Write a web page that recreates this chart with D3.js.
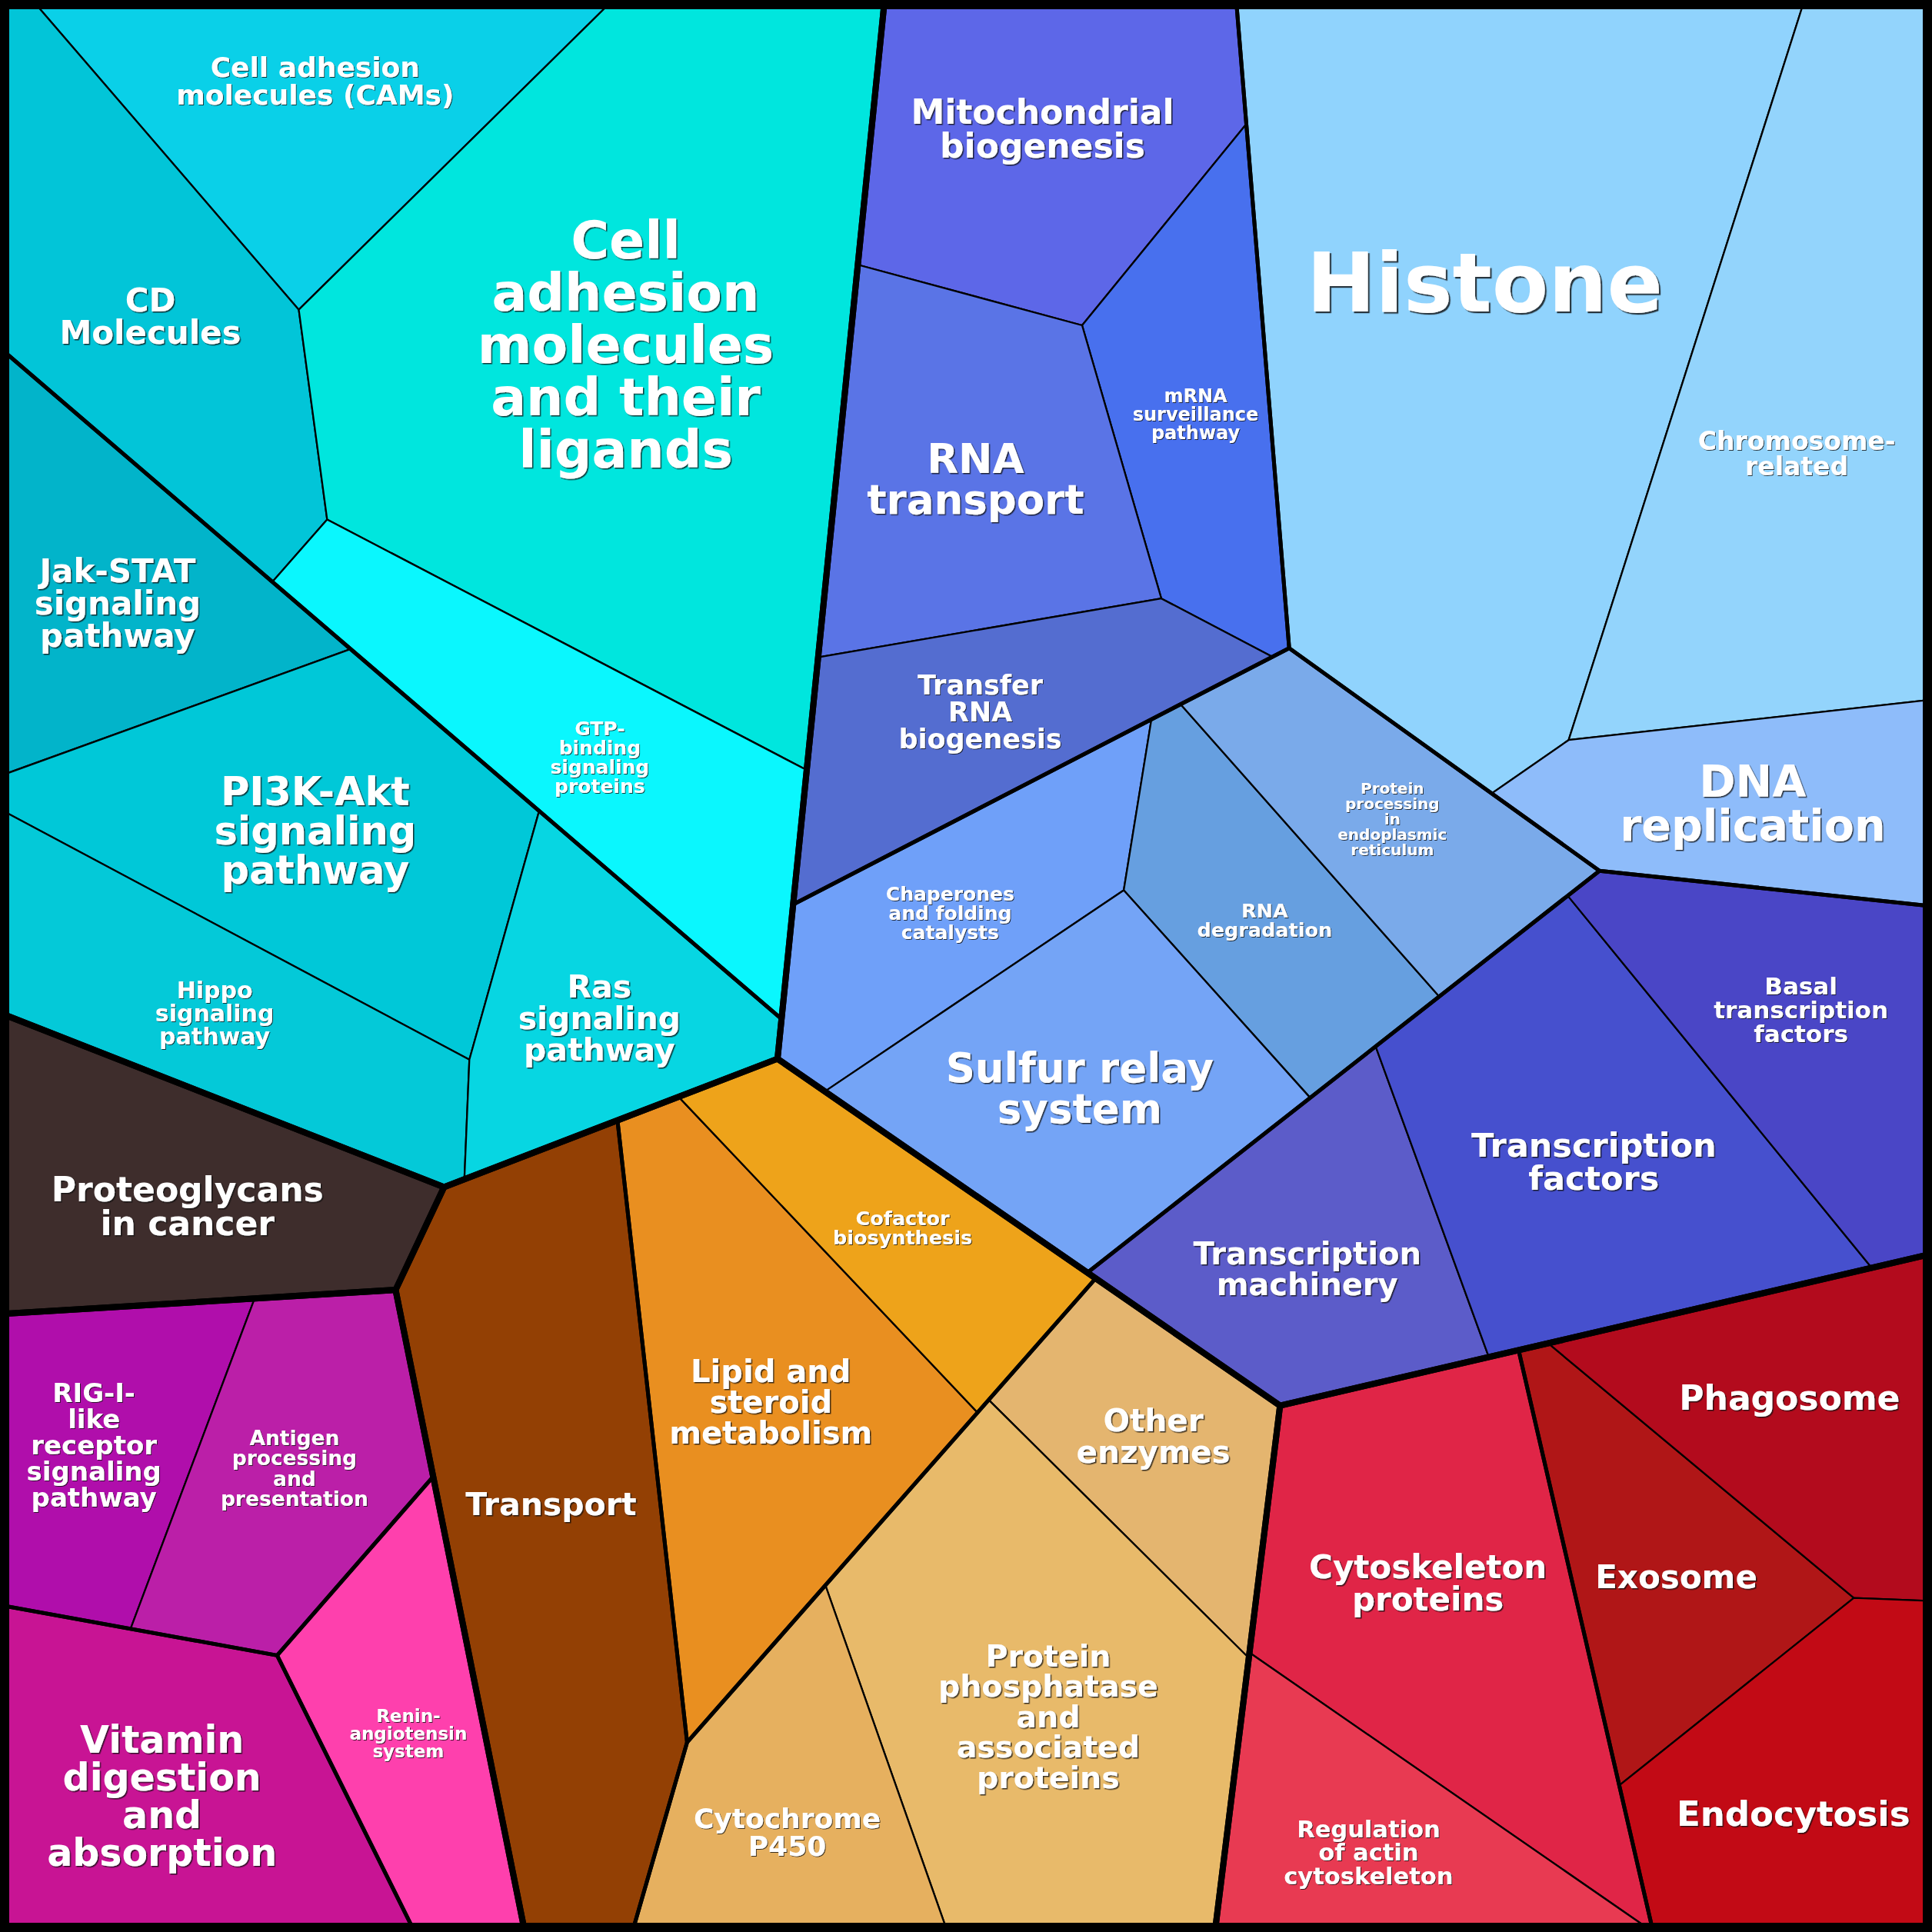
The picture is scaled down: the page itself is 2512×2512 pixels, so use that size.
<!DOCTYPE html>
<html>
<head>
<meta charset="utf-8">
<script src="https://cdn.jsdelivr.net/npm/d3@7"></script>
<style>
  body { margin: 0; background: #fff; }
</style>
</head>
<body>
<div id="chart"></div>
<script>
// Size of the picture
let width = 2512;
let height = 2512;

// Top level categories (not labelled in the picture)
const topNames = ["Environmental Information Processing", "Genetic Information Processing",
  "Cellular Processes", "Metabolism", "Human Diseases", "Organismal Systems"];

// Second level categories and the top category they belong to
const midNames = ["Signaling molecules and interaction", "Signal transduction",
  "Translation", "Chromosome", "Folding, sorting and degradation", "Transcription",
  "Cell motility", "Transport and catabolism", "Cancers",
  "Immune system", "Endocrine system", "Digestive system",
  "Transport", "Lipid and cofactor metabolism", "Enzyme families"];
const midParent = [0, 0, 1, 1, 1, 1, 2, 2, 4, 5, 5, 5, 3, 3, 3];

// Leaves: label (with its line breaks), second level category, value
const leafNames = [
  "Cell adhesion\nmolecules (CAMs)", "CD\nMolecules", "Cell\nadhesion\nmolecules\nand their\nligands", "GTP-\nbinding\nsignaling\nproteins",
  "Jak-STAT\nsignaling\npathway", "PI3K-Akt\nsignaling\npathway", "Hippo\nsignaling\npathway", "Ras\nsignaling\npathway",
  "Mitochondrial\nbiogenesis", "mRNA\nsurveillance\npathway", "RNA\ntransport", "Transfer\nRNA\nbiogenesis",
  "Histone", "Chromosome-\nrelated", "DNA\nreplication",
  "Chaperones\nand folding\ncatalysts", "RNA\ndegradation", "Protein\nprocessing\nin\nendoplasmic\nreticulum", "Sulfur relay\nsystem",
  "Transcription\nmachinery", "Transcription\nfactors", "Basal\ntranscription\nfactors",
  "Cytoskeleton\nproteins", "Regulation\nof actin\ncytoskeleton",
  "Exosome", "Phagosome", "Endocytosis",
  "Proteoglycans\nin cancer",
  "RIG-I-\nlike\nreceptor\nsignaling\npathway", "Antigen\nprocessing\nand\npresentation",
  "Renin-\nangiotensin\nsystem",
  "Vitamin\ndigestion\nand\nabsorption",
  "Transport",
  "Lipid and\nsteroid\nmetabolism", "Cofactor\nbiosynthesis",
  "Other\nenzymes", "Protein\nphosphatase\nand\nassociated\nproteins", "Cytochrome\nP450"
];
const leafParent = [0, 0, 0, 0, 1, 1, 1, 1, 2, 2, 2, 2, 3, 3, 3, 4, 4, 4, 4, 5, 5, 5,
  6, 6, 7, 7, 7, 8, 9, 9, 10, 11, 12, 13, 13, 14, 14, 14];
const leafValues = [24.1, 27.8, 81.0, 24.3, 20.1, 31.2, 21.3, 16.6,
  26.5, 17.1, 25.3, 18.6, 82.9, 46.7, 17.3,
  16.9, 15.4, 16.2, 24.9, 20.4, 33.0, 21.8,
  34.1, 16.4, 17.5, 20.4, 21.4, 23.2,
  16.1, 18.5, 15.8, 27.5, 42.0, 30.8, 14.9, 14.7, 40.4, 17.0];

// Voronoi generators (layout seed) for every level
const topSites = [[572, 728], [1818, 854], [2108, 2099], [1049, 1968], [236, 1585], [269, 2125]];
const midSites = [[719, 551], [300, 1039], [1334, 569], [2080, 508], [1628, 1138],
  [1967, 1570], [1849, 2180], [2290, 2078], [232, 1551], [273, 1941],
  [548, 2181], [198, 2355], [684, 1918], [1068, 1875], [1328, 2104]];
const leafSites = [[578, 138], [147, 509], [850, 414], [595, 902], [193, 756],
  [342, 1168], [286, 1273], [791, 1294], [1326, 261], [1576, 465],
  [1245, 561], [1314, 964], [1922, 430], [2286, 546], [2340, 1032],
  [1242, 1151], [1631, 1214], [1805, 1060], [1415, 1408], [1709, 1643],
  [2085, 1506], [2320, 1314], [1920, 2114], [1747, 2364], [2151, 2071],
  [2356, 1825], [2338, 2305], [232, 1551], [142, 1856], [371, 1942],
  [534, 2247], [220, 2330], [721, 1975], [976, 1805], [1183, 1609],
  [1566, 1941], [1312, 2197], [1011, 2303]];

// Fill colours of the leaves
const leafColors = ["#0ad0e8", "#02c5d8", "#00e6de", "#0af7fe", "#02b4ca", "#00c8d8", "#04c9d8", "#07d6e2",
  "#5d67e8", "#4870ee", "#5a74e6", "#546dd0", "#90d3fd", "#93d4fc", "#8ebcfa",
  "#6fa0f9", "#669fe0", "#7aaaea", "#74a4f6", "#5c5cc9", "#4650ce", "#4a46c6",
  "#e02547", "#e83a52", "#b01617", "#b30b1d", "#c20a15", "#3e2d2c",
  "#b00eab", "#bb1fa8", "#fe40ad", "#c81494",
  "#934004", "#e98f20", "#eea31a", "#e4b56f", "#e8ba6a", "#e6b05f"];

// Label font sizes (px)
const labelSizes = [36, 42, 68, 25, 42, 51, 30, 41, 44, 24, 53, 35, 107, 33, 57,
  25, 25.5, 20, 53, 40, 43, 31, 42, 30.5, 42, 44, 45, 44, 34, 26.5, 23, 49,
  41, 40, 25.5, 40.5, 39.5, 36];

// Keep the part of a convex polygon where ax*x + ay*y <= b
function clipHalf(poly, ax, ay, b){
    let out = [];
    for (let k = 0; k < poly.length; k++){
        let p = poly[k], q = poly[(k + 1) % poly.length];
        let dp = ax * p[0] + ay * p[1] - b;
        let dq = ax * q[0] + ay * q[1] - b;
        if (dp <= 0) out.push(p);
        if ((dp < 0 && dq > 0) || (dp > 0 && dq < 0)){
            let t = dp / (dp - dq);
            out.push([p[0] + t * (q[0] - p[0]), p[1] + t * (q[1] - p[1])]);
        }
    }
    return out;
}

// Bisector of the power diagram between site i and site j
function bisector(sites, w, i, j){
    let p = sites[i], q = sites[j];
    return {
        ax: 2 * (q[0] - p[0]),
        ay: 2 * (q[1] - p[1]),
        b: q[0] * q[0] + q[1] * q[1] - p[0] * p[0] - p[1] * p[1] - w[j] + w[i]
    };
}

function powerCells(parent, sites, w){
    return sites.map(function(p, i){
        let cell = parent;
        sites.forEach(function(q, j){
            if (i === j || cell.length < 3) return;
            let l = bisector(sites, w, i, j);
            cell = clipHalf(cell, l.ax, l.ay, l.b);
        });
        return cell;
    });
}

// Weighted Voronoi cells inside parent whose areas follow the values
function voronoiLevel(parent, sites, values){
    let n = sites.length;
    if (n === 1) return [parent];
    let total = d3.sum(values);
    let parentArea = Math.abs(d3.polygonArea(parent));
    let targets = values.map(function(v){ return v / total * parentArea; });
    let w = new Array(n).fill(0);
    let cells = powerCells(parent, sites, w);
    for (let it = 0; it < 2000; it++){
        let maxErr = 0;
        let dw = cells.map(function(cell, i){
            let area = cell.length > 2 ? Math.abs(d3.polygonArea(cell)) : 0;
            maxErr = Math.max(maxErr, Math.abs(targets[i] - area) / targets[i]);
            let deriv = 0;
            for (let j = 0; j < n; j++){
                if (j === i || cell.length < 3) continue;
                let l = bisector(sites, w, i, j);
                let norm = Math.hypot(l.ax, l.ay);
                for (let k = 0; k < cell.length; k++){
                    let a = cell[k], c = cell[(k + 1) % cell.length];
                    let da = (l.ax * a[0] + l.ay * a[1] - l.b) / norm;
                    let dc = (l.ax * c[0] + l.ay * c[1] - l.b) / norm;
                    if (Math.abs(da) < 1e-3 && Math.abs(dc) < 1e-3){
                        deriv += Math.hypot(c[0] - a[0], c[1] - a[1]) / norm;
                    }
                }
            }
            if (deriv === 0) return parentArea * 0.01;
            return 0.5 * (targets[i] - area) / deriv;
        });
        w = w.map(function(x, i){ return x + dw[i]; });
        cells = powerCells(parent, sites, w);
        if (maxErr < 1e-6) break;
    }
    return cells;
}

// Hierarchy: which leaves in each mid group, which mids in each top group
let leafIdx = d3.range(leafNames.length);
let midLeaves = midNames.map(function(d, m){ return leafIdx.filter(function(i){ return leafParent[i] === m; }); });
let topMids = topNames.map(function(d, t){ return d3.range(midNames.length).filter(function(m){ return midParent[m] === t; }); });
let midValues = midLeaves.map(function(ls){ return d3.sum(ls, function(i){ return leafValues[i]; }); });
let topValues = topMids.map(function(ms){ return d3.sum(ms, function(m){ return midValues[m]; }); });

let square = [[0, 0], [width, 0], [width, height], [0, height]];
let topCells = voronoiLevel(square, topSites, topValues);

let midCells = new Array(midNames.length);
let leafCells = new Array(leafNames.length);
topMids.forEach(function(mids, t){
    let cells = voronoiLevel(topCells[t],
        mids.map(function(m){ return midSites[m]; }),
        mids.map(function(m){ return midValues[m]; }));
    mids.forEach(function(m, k){
        midCells[m] = cells[k];
        let leaves = midLeaves[m];
        let lc = voronoiLevel(cells[k],
            leaves.map(function(i){ return leafSites[i]; }),
            leaves.map(function(i){ return leafValues[i]; }));
        leaves.forEach(function(i, k2){ leafCells[i] = lc[k2]; });
    });
});

// Where a label box fits best: centroid of the cell shrunk by part of the box
function labelSpot(cell, hw, hh){
    let c0 = d3.polygonCentroid(cell);
    let region = cell;
    for (let k = 0; k < cell.length; k++){
        let p = cell[k], q = cell[(k + 1) % cell.length];
        let len = Math.hypot(q[0] - p[0], q[1] - p[1]);
        if (len < 1e-6) continue;
        let nx = (q[1] - p[1]) / len, ny = -(q[0] - p[0]) / len;
        if (nx * (c0[0] - p[0]) + ny * (c0[1] - p[1]) > 0){ nx = -nx; ny = -ny; }
        let s = Math.abs(nx) * hw + Math.abs(ny) * hh;
        region = clipHalf(region, nx, ny, nx * p[0] + ny * p[1] - s);
        if (region.length < 3) return c0;
    }
    if (Math.abs(d3.polygonArea(region)) < 1) return c0;
    return d3.polygonCentroid(region);
}

let line = d3.line().curve(d3.curveLinearClosed);

let svg = d3.select('#chart')
.append('svg')
.attr('width', width)
.attr('height', height);

// Text shadows
let defs = svg.append('defs');
[['shadowS', 1.0], ['shadowM', 1.5], ['shadowL', 2.2]].forEach(function(f){
    defs.append('filter')
    .attr('id', f[0])
    .attr('x', '-5%').attr('y', '-5%').attr('width', '110%').attr('height', '110%')
    .append('feDropShadow')
    .attr('dx', f[1])
    .attr('dy', f[1])
    .attr('stdDeviation', 0.4)
    .attr('flood-color', '#111')
    .attr('flood-opacity', 0.8);
});

// Leaf cells
svg.append('g')
.selectAll('path')
.data(leafIdx)
.enter()
.append('path')
.attr('d', function(i){ return line(leafCells[i]); })
.attr('fill', function(i){ return leafColors[i]; })
.attr('stroke', '#000')
.attr('stroke-width', 2.3)
.attr('stroke-linejoin', 'round');

// Second level borders
svg.append('g')
.selectAll('path')
.data(midCells)
.enter()
.append('path')
.attr('d', function(d){ return line(d); })
.attr('fill', 'none')
.attr('stroke', '#000')
.attr('stroke-width', 5)
.attr('stroke-linejoin', 'round');

// Top level borders
svg.append('g')
.selectAll('path')
.data(topCells)
.enter()
.append('path')
.attr('d', function(d){ return line(d); })
.attr('fill', 'none')
.attr('stroke', '#000')
.attr('stroke-width', 8)
.attr('stroke-linejoin', 'round');

// Frame
svg.append('rect')
.attr('x', 6)
.attr('y', 6)
.attr('width', width - 12)
.attr('height', height - 12)
.attr('fill', 'none')
.attr('stroke', '#000')
.attr('stroke-width', 12)
.attr('stroke-linejoin', 'round');

// Labels, white with a small dark shadow
let labels = svg.append('g')
.attr('font-family', 'DejaVu Sans')
.attr('font-weight', 'bold')
.attr('text-anchor', 'middle')
.attr('fill', '#fff');

leafIdx.forEach(function(i){
    let fs = labelSizes[i];
    let lines = leafNames[i].split('\n');
    let t = labels.append('text')
    .attr('font-size', fs)
    .attr('filter', fs >= 80 ? 'url(#shadowL)' : (fs >= 38 ? 'url(#shadowM)' : 'url(#shadowS)'));
    let spans = lines.map(function(s){
        return t.append('tspan').attr('x', 0).attr('y', 0).text(s);
    });
    let textWidth = d3.max(spans, function(sp){ return sp.node().getComputedTextLength(); });
    let c = labelSpot(leafCells[i], 0.55 * textWidth / 2, 0.55 * lines.length * fs / 2);
    spans.forEach(function(sp, k){
        sp.attr('x', c[0])
        .attr('y', c[1] + (k - (lines.length - 1) / 2) * fs + 0.36 * fs);
    });
});
</script>
</body>
</html>
